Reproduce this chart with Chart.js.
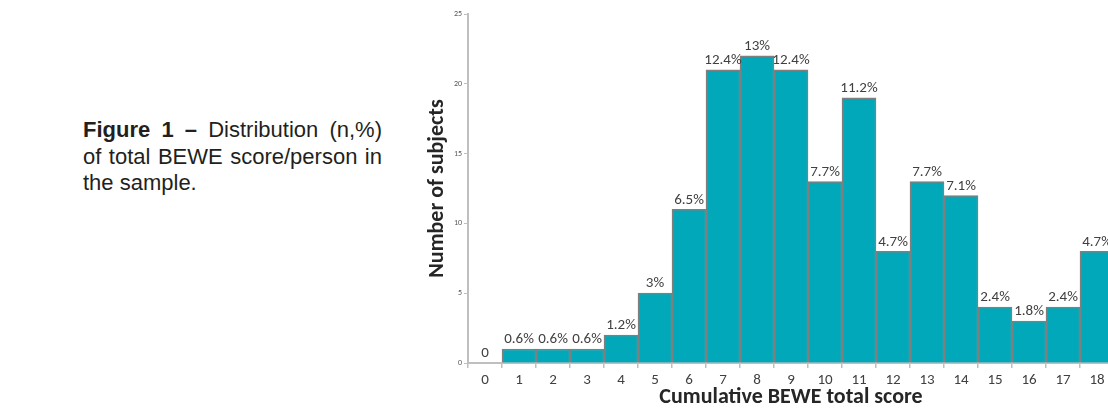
<!DOCTYPE html>
<html>
<head>
<meta charset="utf-8">
<script src="https://cdn.jsdelivr.net/npm/chart.js@4.4.1/dist/chart.umd.min.js"></script>
<style>
  html, body { margin: 0; padding: 0; width: 1108px; height: 411px; overflow: hidden; background: #fff; }
  #cap { position: absolute; left: 83px; top: 117px; width: 299px; font-family: "Liberation Sans", Arial, sans-serif; font-size: 22px; line-height: 26.5px; color: #231f20; }
  #cap .j { text-align: justify; text-align-last: justify; }
  #chart { position: absolute; left: 0; top: 0; }
</style>
</head>
<body>
<div id="cap">
  <div class="j"><b>Figure 1 –</b> Distribution (n,%)</div>
  <div class="j">of total BEWE score/person in</div>
  <div>the sample.</div>
</div>
<canvas id="chart" width="1114" height="411"></canvas>
<script>
const categories = ["0","1","2","3","4","5","6","7","8","9","10","11","12","13","14","15","16","17","18"];
const subjects   = [0, 1, 1, 1, 2, 5, 11, 21, 22, 21, 13, 19, 8, 13, 12, 4, 3, 4, 8];
const percentLabels = ["0","0.6%","0.6%","0.6%","1.2%","3%","6.5%","12.4%","13%","12.4%","7.7%","11.2%","4.7%","7.7%","7.1%","2.4%","1.8%","2.4%","4.7%"];
const yTicks = [0, 5, 10, 15, 20, 25];

const FONT = "Carlito, Lato, 'Open Sans', sans-serif";

const labelPlugin = {
  id: 'barLabels',
  afterDatasetsDraw(chart) {
    const ctx = chart.ctx;
    const meta = chart.getDatasetMeta(0);
    ctx.save();
    ctx.font = "15px " + FONT;
    ctx.fillStyle = '#404040';
    ctx.textAlign = 'center';
    ctx.textBaseline = 'bottom';
    meta.data.forEach((bar, i) => {
      ctx.fillText(percentLabels[i], bar.x, bar.y - 2);
    });
    ctx.restore();
  }
};

new Chart(document.getElementById('chart'), {
  type: 'bar',
  data: {
    labels: categories,
    datasets: [{
      data: subjects,
      backgroundColor: '#00A8B9',
      borderColor: '#7F7F7F',
      borderWidth: 1.5,
      categoryPercentage: 1.0,
      barPercentage: 1.0
    }]
  },
  options: {
    responsive: false,
    animation: false,
    devicePixelRatio: 1,
    layout: { padding: { left: 424, top: 14, right: 0, bottom: 0 } },
    plugins: { legend: { display: false }, tooltip: { enabled: false } },
    scales: {
      x: {
        offset: true,
        grid: { offset: true, drawOnChartArea: false, drawTicks: true, tickLength: 5, color: '#BFBFBF', lineWidth: 1.5 },
        border: { display: true, color: '#BFBFBF', width: 2 },
        ticks: { color: '#404040', font: { family: FONT, size: 15 }, padding: 3, maxRotation: 0, autoSkip: false },
        title: { display: true, text: 'Cumulative BEWE total score', color: '#262626', font: { family: FONT, size: 22, weight: 'bold' }, padding: { top: 0, bottom: 0 } },
        afterFit(scale) { scale.height = 48; }
      },
      y: {
        min: 0, max: 25,
        afterBuildTicks(scale) { scale.ticks = yTicks.map(v => ({ value: v })); },
        grid: { drawOnChartArea: false, drawTicks: true, tickLength: 4, color: '#BFBFBF', lineWidth: 1 },
        border: { display: true, color: '#BFBFBF', width: 2 },
        ticks: { color: '#595959', font: { family: FONT, size: 8 }, padding: 2 },
        title: { display: true, text: 'Number of subjects', color: '#262626', font: { family: FONT, size: 22, weight: 'bold' }, padding: { top: 0, bottom: 0 } },
        afterFit(scale) { scale.width = 44; }
      }
    }
  },
  plugins: [labelPlugin]
});
</script>
</body>
</html>
